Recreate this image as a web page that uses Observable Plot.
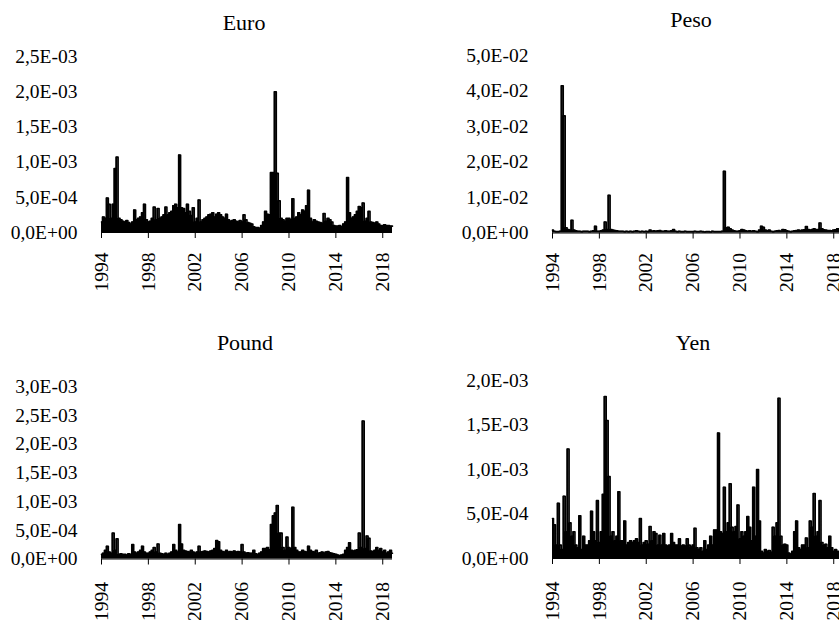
<!DOCTYPE html>
<html><head><meta charset="utf-8">
<script src="https://cdn.jsdelivr.net/npm/d3@7"></script>
<script src="https://cdn.jsdelivr.net/npm/@observablehq/plot@0.6"></script>
<style>
body{margin:0;background:#fff;}
#wrap{position:relative;width:839px;height:620px;overflow:hidden;background:#fff;}
.panel{position:absolute;}
</style></head><body><div id="wrap"></div>
<script>
// sampling: 6 readings per year, starting 1994.0
const startYear = 1994;
const stepsPerYear = 6;
const yearTicks = [1994, 1998, 2002, 2006, 2010, 2014, 2018];

// Euro, units of 1e-4
const euro = [
1.5,2.2,2.0,4.9,4.0,2.0, 4.0,9.1,10.7,2.0,1.8,1.6, 1.5,1.7,1.4,1.2,1.5,3.2, 1.8,2.0,2.2,2.8,4.0,1.8,
1.5,1.6,2.0,3.6,1.8,3.4, 2.0,2.2,2.5,3.6,2.5,2.8, 3.0,3.8,4.0,3.5,11.0,3.5, 3.4,2.8,4.0,3.0,2.4,3.5,
1.5,2.0,4.6,1.5,1.8,2.0, 2.2,2.5,2.6,2.8,2.2,2.6, 2.8,2.5,2.2,2.0,2.6,1.8, 1.6,1.7,1.8,1.6,1.5,1.7,
1.5,2.5,1.8,1.4,1.3,1.2, 0.8,0.7,0.7,0.6,1.0,1.5, 3.0,2.6,2.5,8.5,8.5,20.0, 8.4,4.5,2.0,1.8,1.6,2.0,
2.0,1.8,4.8,2.0,2.2,2.8, 2.5,3.2,3.0,3.8,6.0,2.0, 1.5,1.8,1.6,1.5,1.4,1.3, 2.7,1.6,2.0,1.8,1.5,1.0,
0.9,0.9,1.0,0.8,1.2,1.5, 7.8,2.8,2.0,2.2,2.5,3.0, 3.7,3.5,4.2,1.6,2.0,3.0, 1.5,1.4,1.3,1.5,1.2,1.0,
1.0,1.1,1.0,1.0,0.9,0.9
];
// Peso, units of 1e-3
const peso = [
0.8,0.5,0.4,0.4,0.5,41.5, 33.0,1.5,1.0,0.8,3.6,0.8, 0.6,0.5,0.5,0.4,0.5,0.5, 0.5,0.4,0.5,0.6,1.9,0.5,
0.5,0.6,0.8,3.1,1.0,10.6, 1.0,0.8,0.7,0.6,0.5,0.5, 0.5,0.4,0.5,0.4,0.5,0.4, 0.5,0.6,0.5,0.4,0.5,0.4,
0.5,0.4,0.8,0.5,0.6,0.5, 0.6,0.7,0.5,0.5,0.6,0.5, 0.5,0.6,1.0,0.5,0.4,0.5, 0.4,0.4,0.5,0.4,0.4,0.4,
0.4,0.5,0.4,0.4,0.5,0.4, 0.3,0.4,0.4,0.3,0.5,0.4, 0.4,0.4,0.4,0.5,17.4,1.5, 1.6,1.2,0.8,0.6,0.5,0.5,
0.6,1.0,0.8,0.6,0.5,0.6, 0.5,0.6,0.5,0.4,0.8,1.9, 1.6,0.8,0.6,0.8,0.5,0.4, 0.5,0.6,0.7,0.5,1.0,0.9,
0.6,0.5,0.4,0.5,0.6,0.7, 0.8,0.7,0.8,0.9,1.8,1.0, 0.8,1.0,1.2,1.0,1.0,2.8, 1.2,0.9,0.8,0.7,0.7,0.6,
0.8,0.9,1.2,0.8,0.7,0.7
];
// Pound, units of 1e-4
const pound = [
0.8,1.0,1.5,2.2,1.2,1.0, 4.5,1.5,3.5,0.8,0.9,0.8, 0.8,0.7,0.9,0.8,2.5,1.2, 1.0,1.2,1.5,2.2,1.2,1.0,
1.0,1.2,1.5,2.0,1.2,2.6, 1.0,0.9,0.8,1.0,0.8,1.0, 1.2,2.5,1.5,1.2,6.0,2.6, 1.5,1.4,1.3,1.2,1.5,1.2,
1.0,1.2,2.2,1.2,1.3,1.4, 1.3,1.2,1.4,1.5,1.8,3.2, 3.0,1.5,1.3,1.2,1.5,1.2, 1.3,1.2,1.4,1.2,1.3,1.2,
2.5,1.2,1.0,1.1,1.0,1.0, 1.5,0.9,0.8,1.0,1.2,1.8, 1.8,2.0,1.6,6.0,7.5,8.0, 9.3,4.5,4.5,2.0,1.5,3.8,
2.0,1.8,9.0,2.0,1.5,1.2, 1.2,1.5,1.3,1.2,2.2,1.5, 1.3,1.2,1.5,1.0,1.1,1.2, 1.0,1.2,1.3,1.1,1.0,0.9,
0.8,0.7,0.6,0.7,0.8,1.5, 2.0,2.8,1.5,1.4,1.5,1.6, 4.5,2.0,24.0,1.8,4.0,3.6, 1.4,1.3,1.5,2.0,1.5,1.8,
1.2,1.5,1.0,1.2,1.5,1.0
];
// Yen, units of 1e-4
const yen = [
4.5,3.8,1.5,6.2,1.5,1.0, 7.0,3.0,12.3,4.0,2.5,3.0, 1.5,1.2,4.8,1.0,2.5,1.5, 1.5,2.0,5.3,3.0,2.0,6.5,
1.8,3.0,7.2,18.2,15.5,9.2, 2.5,3.0,2.0,2.5,7.5,2.0, 2.0,4.2,1.5,1.8,2.0,1.8, 2.0,2.2,1.8,4.5,1.5,1.8,
2.0,1.6,3.6,2.0,3.0,2.8, 1.5,2.6,1.5,2.8,1.5,1.4, 1.5,2.8,1.8,1.5,1.5,2.2, 1.4,1.5,1.4,2.2,1.5,1.3,
1.5,3.4,1.2,1.0,1.2,0.8, 2.0,1.0,1.5,2.5,1.5,3.2, 3.2,14.1,3.0,2.8,8.0,3.0, 4.0,8.4,3.5,3.0,3.6,6.0,
2.2,3.0,2.5,3.0,4.7,3.5, 2.0,8.0,2.5,10.0,4.2,0.8, 0.6,1.0,0.8,0.9,0.7,3.5, 2.5,4.0,18.0,2.5,1.5,1.6,
1.5,0.6,0.5,0.8,3.0,4.2, 1.2,1.0,1.5,1.5,2.3,1.2, 4.2,3.5,7.3,2.5,3.0,6.5, 1.8,1.5,1.6,1.2,2.5,1.2,
0.8,1.0,0.8,0.6,0.7,0.6
];

const euroTicks = [0, 5e-4, 1e-3, 1.5e-3, 2e-3, 2.5e-3];
const pesoTicks = [0, 1e-2, 2e-2, 3e-2, 4e-2, 5e-2];
const poundTicks = [0, 5e-4, 1e-3, 1.5e-3, 2e-3, 2.5e-3, 3e-3];
const yenTicks = [0, 5e-4, 1e-3, 1.5e-3, 2e-3];

function sci(v) {
  if (v === 0) return "0,0E+00";
  const [m, e] = v.toExponential(1).split("e");
  const n = +e;
  return m.replace(".", ",") + "E" + (n < 0 ? "-" : "+") + String(Math.abs(n)).padStart(2, "0");
}

function series(values, unit) {
  return values.map((v, i) => ({x: startYear + i / stepsPerYear, y: v * unit}));
}

const panels = [
  {title: "Euro",  data: series(euro, 1e-4),  ticks: euroTicks,  left: 0,   top: 0,   w: 420, h: 300, ml: 101, mr: 28, mt: 56, mb: 68,   tdx: -3, tdy: -42, pad: 14},
  {title: "Peso",  data: series(peso, 1e-3),  ticks: pesoTicks,  left: 420, top: 0,   w: 440, h: 300, ml: 132, mr: 17, mt: 55, mb: 67.5, tdx: -7, tdy: -44, pad: 14},
  {title: "Pound", data: series(pound, 1e-4), ticks: poundTicks, left: 0,   top: 300, w: 420, h: 320, ml: 101, mr: 28, mt: 86, mb: 61.5, tdx: -2, tdy: -52, pad: 17},
  {title: "Yen",   data: series(yen, 1e-4),   ticks: yenTicks,   left: 420, top: 300, w: 440, h: 320, ml: 132, mr: 17, mt: 80, mb: 62,   tdx: -5, tdy: -46, pad: 17}
];

const wrap = document.getElementById("wrap");
for (const p of panels) {
  const svg = Plot.plot({
    width: p.w, height: p.h,
    marginLeft: p.ml, marginRight: p.mr, marginTop: p.mt, marginBottom: p.mb,
    style: {fontFamily: "'Liberation Serif', 'Times New Roman', serif", fontSize: "19.5px", color: "#000", background: "transparent", overflow: "visible"},
    x: {domain: [startYear, startYear + (p.data.length - 1) / stepsPerYear], ticks: yearTicks, tickFormat: d => String(d),
        tickRotate: -90, tickSize: 6, tickPadding: p.pad, label: null},
    y: {domain: [0, p.ticks[p.ticks.length - 1]], ticks: p.ticks, tickFormat: sci, tickSize: 0, tickPadding: 24, label: null},
    marks: [
      Plot.areaY(p.data, {x: "x", y: "y", fill: "#000", curve: "step"}),
      Plot.lineY(p.data, {x: "x", y: "y", stroke: "#000", strokeWidth: 1.6, curve: "step"}),
      Plot.ruleY([0], {stroke: "#000", strokeWidth: 1.2}),
      Plot.text([p.title], {frameAnchor: "top", dx: p.tdx, dy: p.tdy, fontSize: 22, fill: "#000"})
    ]
  });
  svg.classList.add("panel");
  svg.style.position = "absolute";
  svg.style.left = p.left + "px";
  svg.style.top = p.top + "px";
  wrap.appendChild(svg);
}
</script>
</body></html>
